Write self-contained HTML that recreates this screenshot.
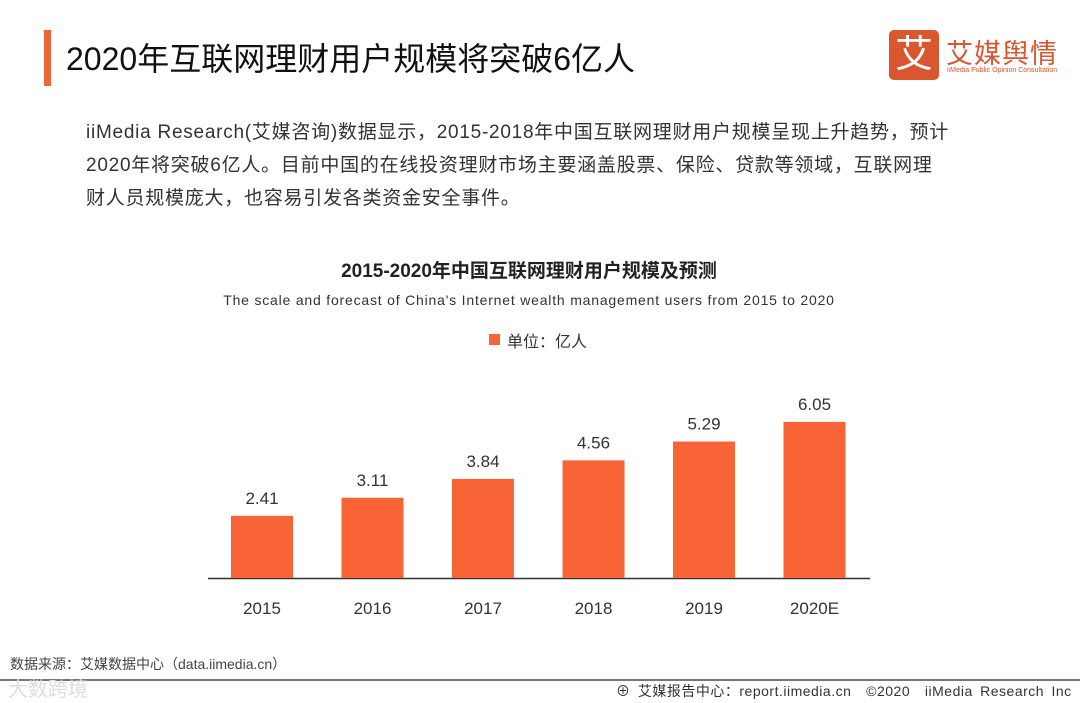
<!DOCTYPE html>
<html><head><meta charset="utf-8"><style>
body{margin:0;width:1080px;height:703px;background:#fff;position:relative;overflow:hidden;font-family:"Liberation Sans","Noto Sans CJK SC",sans-serif;color:#222}
.a{position:absolute}
</style></head><body>
<div class="a" style="left:44px;top:30px;width:7px;height:56px;background:#f0643a"></div>
<div class="a" style="left:66px;top:34px;font-size:32px;color:#111">2020年互联网理财用户规模将突破6亿人</div>
<div class="a" style="left:889px;top:30px;width:50px;height:50px;background:#d9562f;border-radius:5px;color:#fff;font-size:38px;text-align:center;line-height:50px">艾</div>
<div class="a" style="left:946px;top:32px;font-size:27px;color:#d9562f;letter-spacing:1px">艾媒舆情</div>
<div class="a" style="left:947px;top:67px;font-size:7px;color:#d9562f">iiMedia Public Opinion Consultation</div>
<div class="a" style="left:86px;top:116px;width:920px;font-size:19px;line-height:33px;color:#333;white-space:nowrap;letter-spacing:0.75px">iiMedia Research(艾媒咨询)数据显示，2015-2018年中国互联网理财用户规模呈现上升趋势，预计<br>2020年将突破6亿人。目前中国的在线投资理财市场主要涵盖股票、保险、贷款等领域，互联网理<br>财人员规模庞大，也容易引发各类资金安全事件。</div>
<div class="a" style="left:0;width:1058px;top:256px;text-align:center;font-size:19px;font-weight:bold;color:#222">2015-2020年中国互联网理财用户规模及预测</div>
<div class="a" style="left:0;width:1058px;top:292px;text-align:center;font-size:14px;color:#333;letter-spacing:0.8px">The scale and forecast of China's Internet wealth management users from 2015 to 2020</div>
<div class="a" style="left:489px;top:334px;width:11px;height:11px;background:#f86436"></div>
<div class="a" style="left:507px;top:328px;font-size:16px;color:#333">单位：亿人</div>
<svg class="a" style="left:0;top:0" width="1080" height="703">
<line x1="208" x2="870" y1="578.5" y2="578.5" stroke="#333" stroke-width="1.5"/>
<g id="bars"></g>
</svg>
<div class="a" style="left:10px;top:654px;font-size:14px;color:#444">数据来源：艾媒数据中心（data.iimedia.cn）</div>
<div class="a" style="left:0;top:679px;width:1080px;height:2px;background:#777"></div>
<div class="a" style="left:8px;top:673px;font-size:20px;color:#ddd">大数跨境</div>
<div class="a" style="left:616px;top:681px;font-size:14px;color:#333;letter-spacing:0.5px;word-spacing:3px">⊕ 艾媒报告中心：report.iimedia.cn &nbsp;©2020 &nbsp;iiMedia Research Inc</div>
<script>
const categories=["2015","2016","2017","2018","2019","2020E"];
const values=[2.41,3.11,3.84,4.56,5.29,6.05];
const g=document.getElementById('bars');const ns='http://www.w3.org/2000/svg';
const x0=208,step=110.5,bw=62,base=578,scale=25.8;
function xc(i){return x0+54+i*step;}
function y(v){return base-v*scale;}
values.forEach((v,i)=>{
const r=document.createElementNS(ns,'rect');
r.setAttribute('x',xc(i)-bw/2);r.setAttribute('y',y(v));r.setAttribute('width',bw);r.setAttribute('height',base-y(v));r.setAttribute('fill','#f86436');


g.appendChild(r);
const t=document.createElementNS(ns,'text');
t.setAttribute('x',xc(i));t.setAttribute('y',y(v)-12);t.setAttribute('text-anchor','middle');t.setAttribute('font-size','17');t.setAttribute('fill','#333');t.textContent=v.toFixed(2);


g.appendChild(t);
const c=document.createElementNS(ns,'text');
c.setAttribute('x',xc(i));c.setAttribute('y',614);c.setAttribute('text-anchor','middle');c.setAttribute('font-size','17');c.setAttribute('fill','#333');c.textContent=categories[i];


g.appendChild(c);
});
</script>
</body></html>
